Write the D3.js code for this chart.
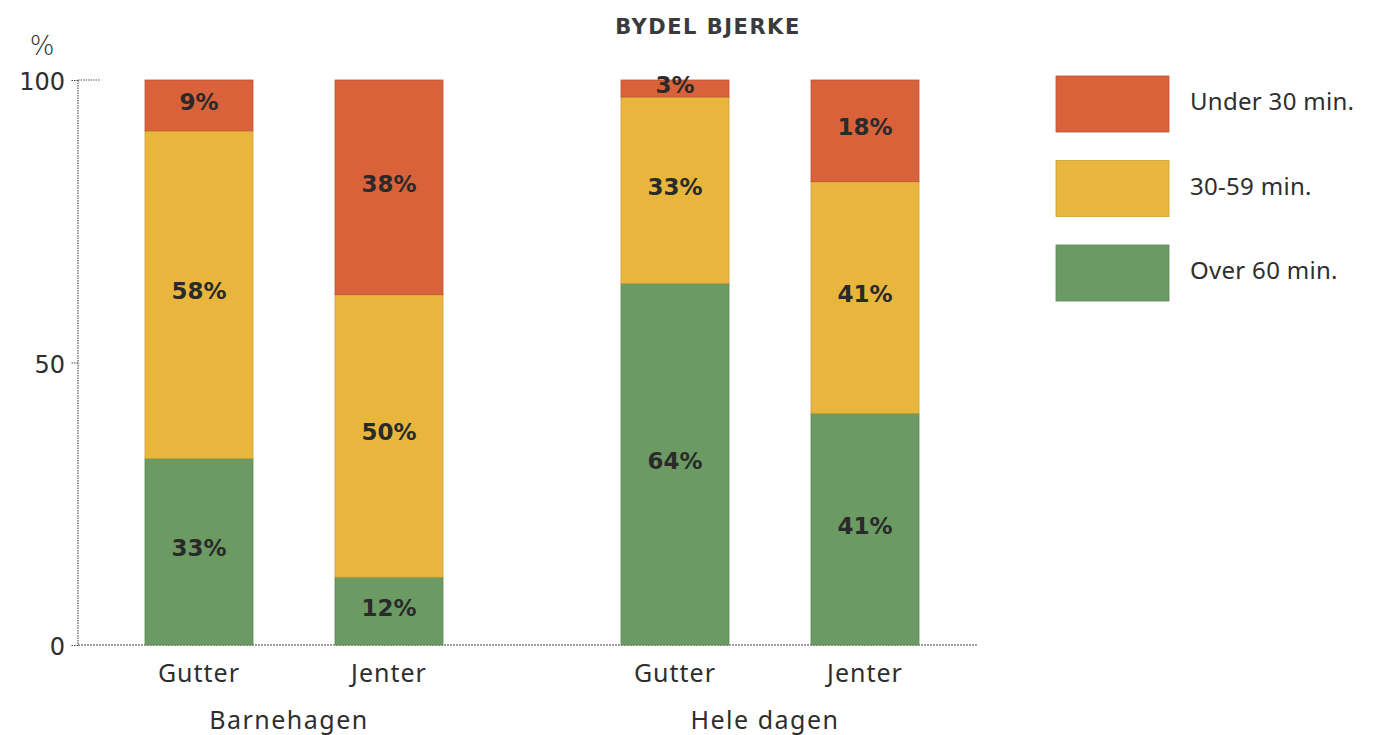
<!DOCTYPE html>
<html>
<head>
<meta charset="utf-8">
<script src="https://cdn.jsdelivr.net/npm/d3@7"></script>
<style>
  body { margin: 0; background: #fff; }
  text { font-family: "Noto Sans", "Open Sans", sans-serif; fill: #2e2e2e; }
</style>
</head>
<body>
<div id="chart"></div>
<script>
// ==============================
// Data
// ==============================
var groups = ["Barnehagen", "Hele dagen"];
var genders = ["Gutter", "Jenter"];
var categories = ["Over 60 min.", "30-59 min.", "Under 30 min."];
var legendOrder = ["Under 30 min.", "30-59 min.", "Over 60 min."];

// one value per bar: Barnehagen Gutter, Barnehagen Jenter, Hele dagen Gutter, Hele dagen Jenter
var over60 = [33, 12, 64, 41];
var min30to59 = [58, 50, 33, 41];
var under30 = [9, 38, 3, 18];

var yTicks = [0, 50, 100];
var colors = ["#6b9b63", "#e8b63d", "#d9623a"];

// build rows for d3.stack
var rows = [];
groups.forEach(function(g, gi) {
  genders.forEach(function(s, si) {
    var i = gi * genders.length + si;
    rows.push({
      group: g,
      gender: s,
      "Over 60 min.": over60[i],
      "30-59 min.": min30to59[i],
      "Under 30 min.": under30[i]
    });
  });
});

// ==============================
// SVG
// ==============================
var svgWidth = 1384, svgHeight = 735;
var svg = d3.select("#chart").append("svg")
  .attr("width", svgWidth)
  .attr("height", svgHeight);

// Scales
var x0 = d3.scaleBand().domain(groups).range([56, 1008]);
var x1 = d3.scaleBand().domain(genders).range([89, 387]).paddingInner(0.4316);
var y = d3.scaleLinear().domain([0, 100]).range([645, 80]);
var color = d3.scaleOrdinal().domain(categories).range(colors);

// Title
svg.append("text")
  .attr("x", 708).attr("y", 34)
  .attr("text-anchor", "middle")
  .style("font-family", "'DejaVu Sans', sans-serif")
  .style("font-size", "21px")
  .style("font-weight", "bold")
  .style("letter-spacing", "1.5px")
  .style("fill", "#3a3a3a")
  .text("BYDEL BJERKE");

// "%" unit
svg.append("text")
  .attr("x", 42).attr("y", 55)
  .attr("text-anchor", "middle")
  .style("font-family", "'DejaVu Sans', sans-serif")
  .style("font-size", "26px")
  .style("font-weight", "300")
  .text("%");

// Y axis (dotted line, ticks)
var yAxis = d3.axisLeft(y).tickValues(yTicks).tickSize(7).tickPadding(6);
var yG = svg.append("g")
  .attr("transform", "translate(78,0)")
  .call(yAxis);
yG.select(".domain").remove();
yG.selectAll(".tick line").attr("stroke", "#444").attr("stroke-dasharray", "1.5,1");
yG.selectAll(".tick text")
  .style("font-size", "24px")
  .style("font-family", "'DejaVu Sans', sans-serif")
  .attr("dy", "0.4em")
  .attr("fill", "#333");

svg.append("line")
  .attr("x1", 78).attr("x2", 78)
  .attr("y1", y(100)).attr("y2", y(0))
  .attr("stroke", "#555").attr("stroke-width", 1.2)
  .attr("stroke-dasharray", "1.5,1");
svg.append("line")
  .attr("x1", 78).attr("x2", 100)
  .attr("y1", y(100)).attr("y2", y(100))
  .attr("stroke", "#555").attr("stroke-width", 1)
  .attr("stroke-dasharray", "1.5,1");

// X axis baseline
svg.append("line")
  .attr("x1", 78).attr("x2", 978)
  .attr("y1", y(0)).attr("y2", y(0))
  .attr("stroke", "#444").attr("stroke-width", 1.2)
  .attr("stroke-dasharray", "2,1");

// ==============================
// Stacked bars
// ==============================
var stacked = d3.stack().keys(categories)(rows);

function barX(d) { return x0(d.data.group) + x1(d.data.gender); }

var layers = svg.selectAll(".layer")
  .data(stacked)
  .enter().append("g")
  .attr("class", "layer")
  .attr("fill", function(d) { return color(d.key); });

layers.selectAll("rect")
  .data(function(d) { return d; })
  .enter().append("rect")
  .attr("x", barX)
  .attr("y", function(d) { return y(d[1]); })
  .attr("width", x1.bandwidth())
  .attr("height", function(d) { return y(d[0]) - y(d[1]); })
  .attr("stroke", function() { return d3.color(d3.select(this.parentNode).attr("fill")).darker(0.4); })
  .attr("stroke-width", 0.8);

// segment labels
layers.selectAll(".seg-label")
  .data(function(d) { return d; })
  .enter().append("text")
  .attr("class", "seg-label")
  .attr("x", function(d) { return barX(d) + x1.bandwidth() / 2; })
  .attr("y", function(d) { return (y(d[0]) + y(d[1])) / 2 - 2; })
  .attr("text-anchor", "middle")
  .attr("dominant-baseline", "middle")
  .style("font-family", "'DejaVu Sans', sans-serif")
  .style("font-size", "23px")
  .style("font-weight", "bold")
  .style("fill", "#2a2a2a")
  .text(function(d) { return (d[1] - d[0]) + "%"; });

// ==============================
// Category labels
// ==============================
rows.forEach(function(r) {
  svg.append("text")
    .attr("x", x0(r.group) + x1(r.gender) + x1.bandwidth() / 2)
    .attr("y", 682)
    .attr("text-anchor", "middle")
    .style("font-size", "25px")
    .style("letter-spacing", "1px")
    .text(r.gender);
});

groups.forEach(function(g) {
  svg.append("text")
    .attr("x", x0(g) + x0.bandwidth() / 2 - 5)
    .attr("y", 729)
    .attr("text-anchor", "middle")
    .style("font-size", "25px")
    .style("letter-spacing", "1.5px")
    .text(g);
});

// ==============================
// Legend
// ==============================
var legend = svg.selectAll(".legend")
  .data(legendOrder)
  .enter().append("g")
  .attr("class", "legend")
  .attr("transform", function(d, i) { return "translate(1056," + (76 + i * 84.5) + ")"; });

legend.append("rect")
  .attr("width", 113)
  .attr("height", 56)
  .attr("fill", function(d) { return color(d); })
  .attr("stroke", function(d) { return d3.color(color(d)).darker(0.4); })
  .attr("stroke-width", 0.8);

legend.append("text")
  .attr("x", 134)
  .attr("y", 28)
  .attr("dominant-baseline", "middle")
  .style("font-size", "24px")
  .style("letter-spacing", "0.3px")
  .text(function(d) { return d; });
</script>
</body>
</html>
